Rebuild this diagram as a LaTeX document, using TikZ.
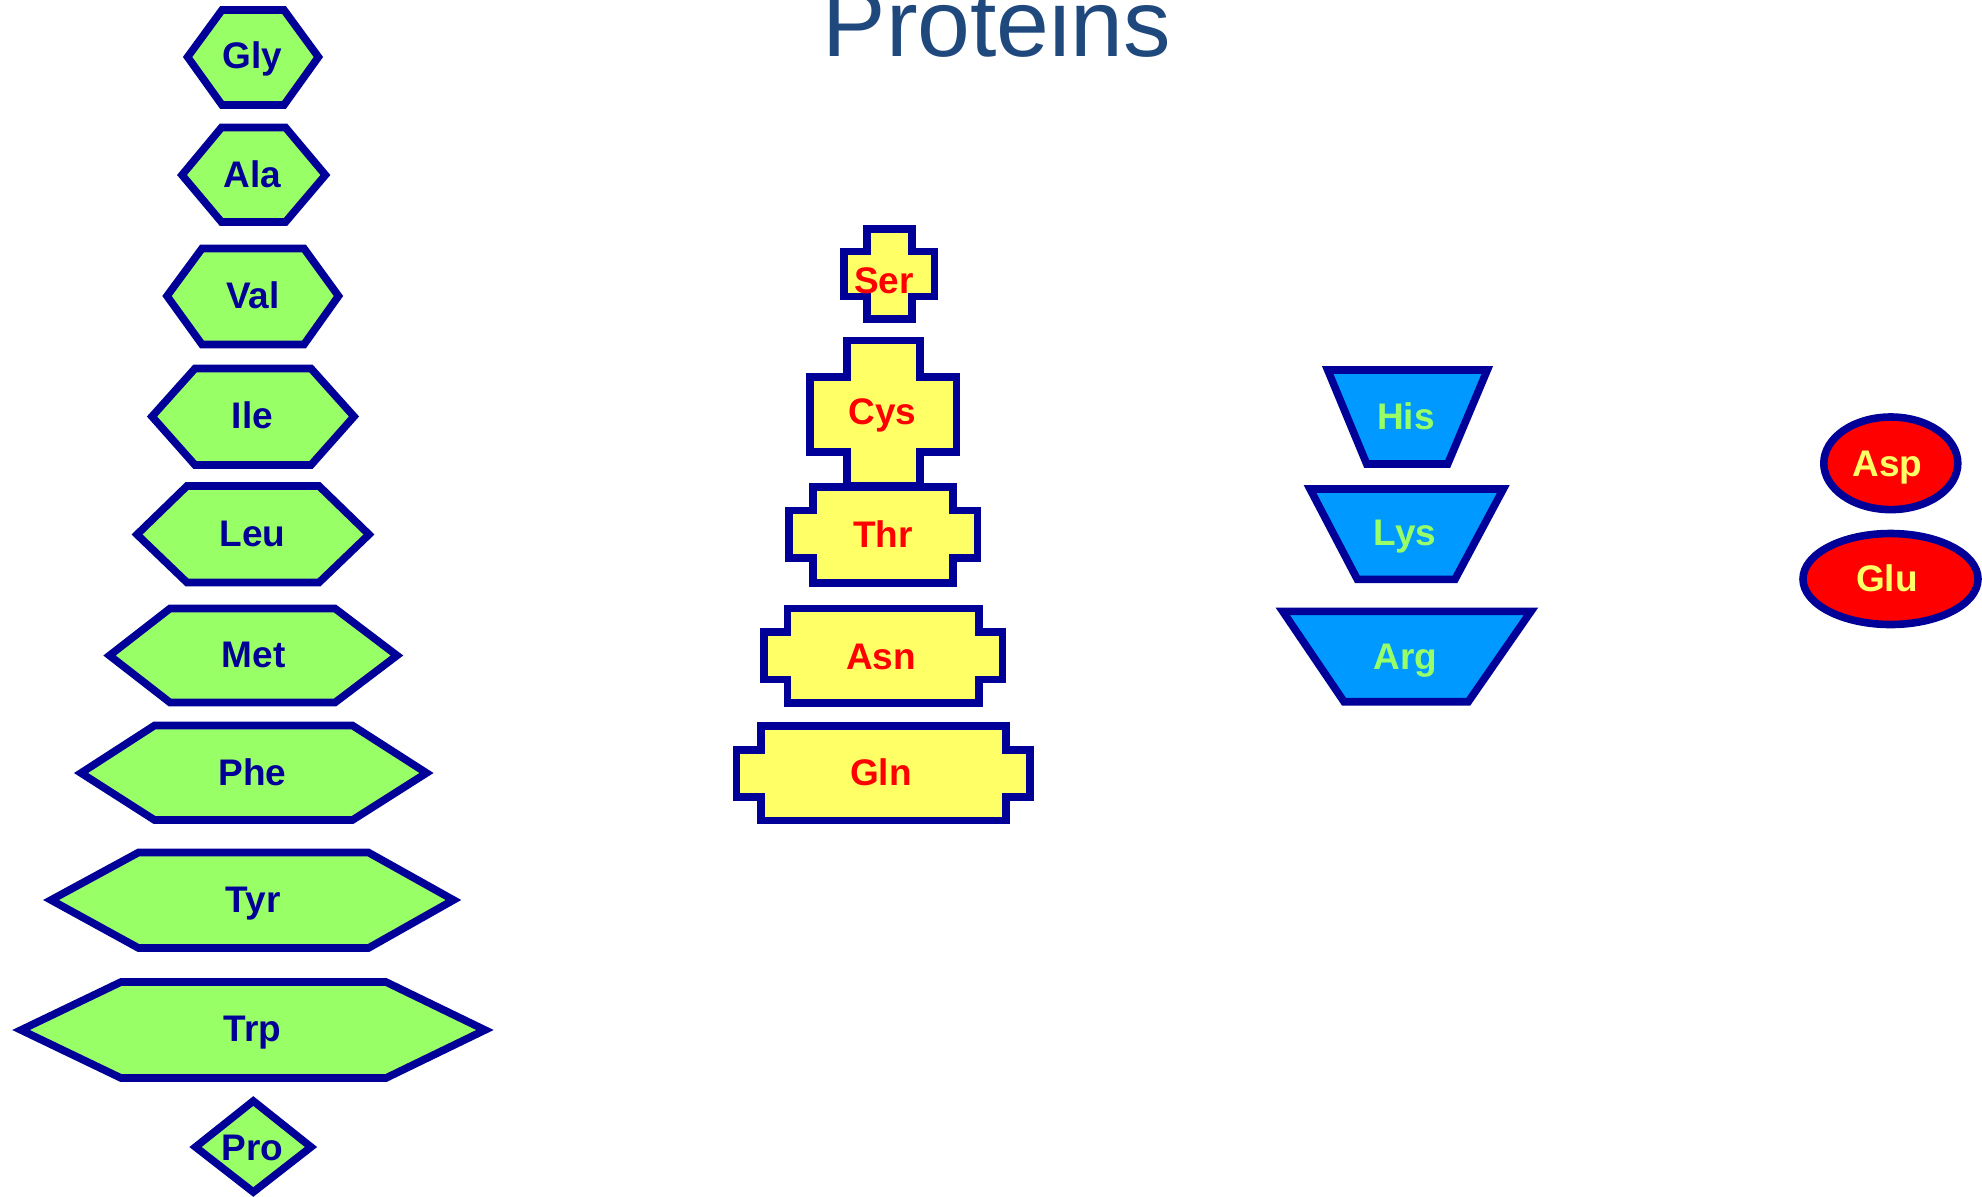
\documentclass[tikz,border=0pt]{standalone}
\usepackage{fontspec}
\setmainfont{Liberation Sans}
\definecolor{navyc}{HTML}{000099}
\definecolor{greenc}{HTML}{99FF66}
\definecolor{yellowc}{HTML}{FFFF66}
\definecolor{bluec}{HTML}{0099FF}
\definecolor{redc}{HTML}{FF0000}
\definecolor{titlec}{HTML}{1F497D}
\tikzset{
  shp/.style={draw=navyc, line width=7.6pt, line join=miter},
  hexs/.style={shp, fill=greenc},
  crs/.style={shp, fill=yellowc},
  trap/.style={shp, fill=bluec},
  ovl/.style={shp, fill=redc},
  lbl/.style={font=\bfseries\fontsize{37}{40}\selectfont, anchor=base, inner sep=0pt},
  lblhex/.style={lbl, text=navyc},
  lblcrs/.style={lbl, text=redc},
  lbltrap/.style={lbl, text=greenc},
  lblovl/.style={lbl, text=yellowc},
}
% cross-like shape: vertical bar xa..xb, ya..yb ; horizontal bar XA..XB, YA..YB
\newcommand\mycross[8]{%
  \draw[crs] (#1,#5) -- (#2,#5) -- (#2,#7) -- (#4,#7) -- (#4,#8) -- (#2,#8) -- (#2,#6) -- (#1,#6) -- (#1,#8) -- (#3,#8) -- (#3,#7) -- (#1,#7) -- cycle;}
\begin{document}
\begin{tikzpicture}[x=1pt,y=-1pt]
\useasboundingbox (0,0) rectangle (1982,1197);
\clip (0,0) rectangle (1982,1197);

% title
\node[font=\fontsize{95}{100}\selectfont, text=titlec, anchor=base, inner sep=0pt] (title) at (997,56.7) {Proteins};

% green hexagons
\draw[hexs] (187.6,57) -- (222,10) -- (284,10) -- (318.4,57) -- (284,105) -- (222,105) -- cycle;
\node[lblhex] (gly) at (252.5,68.3) {Gly};
\draw[hexs] (182,175) -- (221.5,127.5) -- (285.5,127.5) -- (325.4,175) -- (285.5,222) -- (221.5,222) -- cycle;
\node[lblhex] (ala) at (252.5,187.3) {Ala};
\draw[hexs] (167,296) -- (202,248.5) -- (304,248.5) -- (338.5,296) -- (304,344.5) -- (202,344.5) -- cycle;
\node[lblhex] (val) at (253,308.3) {Val};
\draw[hexs] (152,416.5) -- (195,368.5) -- (311,368.5) -- (354,416.5) -- (311,465) -- (195,465) -- cycle;
\node[lblhex] (ile) at (252.5,428.3) {Ile};
\draw[hexs] (137,534.5) -- (187,486) -- (319,486) -- (369,534.5) -- (319,582.5) -- (187,582.5) -- cycle;
\node[lblhex] (leu) at (252.5,546.7) {Leu};
\draw[hexs] (109.5,655.5) -- (170,608.5) -- (335,608.5) -- (397,655.5) -- (335,702.5) -- (170,702.5) -- cycle;
\node[lblhex] (met) at (253.5,667.7) {Met};
\draw[hexs] (81,773) -- (154.5,725.5) -- (352.5,725.5) -- (426.5,773) -- (352.5,820) -- (154.5,820) -- cycle;
\node[lblhex] (phe) at (252.5,785) {Phe};
\draw[hexs] (51,900) -- (138.5,852.5) -- (368.5,852.5) -- (453.5,900) -- (368.5,948) -- (138.5,948) -- cycle;
\node[lblhex] (tyr) at (253.3,912.3) {Tyr};
\draw[hexs] (21,1030) -- (121,982) -- (386,982) -- (485,1030) -- (386,1078) -- (121,1078) -- cycle;
\node[lblhex] (trp) at (252.5,1041.7) {Trp};
\draw[hexs] (195.5,1147) -- (253.3,1101) -- (311,1147) -- (253.3,1192) -- cycle;
\node[lblhex] (pro) at (252.7,1160) {Pro};

% yellow crosses
\mycross{866.7}{912}{843.7}{934.3}{228.7}{318.7}{251.3}{296.3}
\node[lblcrs] (ser) at (884,293.5) {Ser};
\mycross{847}{919.7}{809.7}{956.3}{340.3}{486}{377}{452}
\node[lblcrs] (cys) at (882.5,424.5) {Cys};
\mycross{813}{953}{789}{977.3}{486.7}{582.7}{510.3}{557.7}
\node[lblcrs] (thr) at (883,547.3) {Thr};
\mycross{787.3}{979}{763.7}{1002.3}{608.3}{703}{632}{679.3}
\node[lblcrs] (asn) at (881,669) {Asn};
\mycross{760.7}{1005.7}{736.3}{1029.7}{726}{820.3}{749.7}{797}
\node[lblcrs] (gln) at (881,785) {Gln};

% blue trapezoids
\draw[trap] (1327.7,370) -- (1487.3,370) -- (1447.7,464) -- (1366.7,464) -- cycle;
\node[lbltrap] (his) at (1406,429.3) {His};
\draw[trap] (1310,489) -- (1503.3,489) -- (1455,579.3) -- (1357.3,579.3) -- cycle;
\node[lbltrap] (lys) at (1405,545.7) {Lys};
\draw[trap] (1282.7,611.3) -- (1531,611.3) -- (1468.3,701.7) -- (1344,701.7) -- cycle;
\node[lbltrap] (arg) at (1405.5,669.3) {Arg};

% red ellipses
\draw[ovl] (1890.8,463.3) ellipse [x radius=67, y radius=46.3];
\node[lblovl] (asp) at (1887.5,476) {Asp};
\draw[ovl] (1890.5,579) ellipse [x radius=87.5, y radius=45.5];
\node[lblovl] (glu) at (1887,591.7) {Glu};
\end{tikzpicture}
\end{document}
